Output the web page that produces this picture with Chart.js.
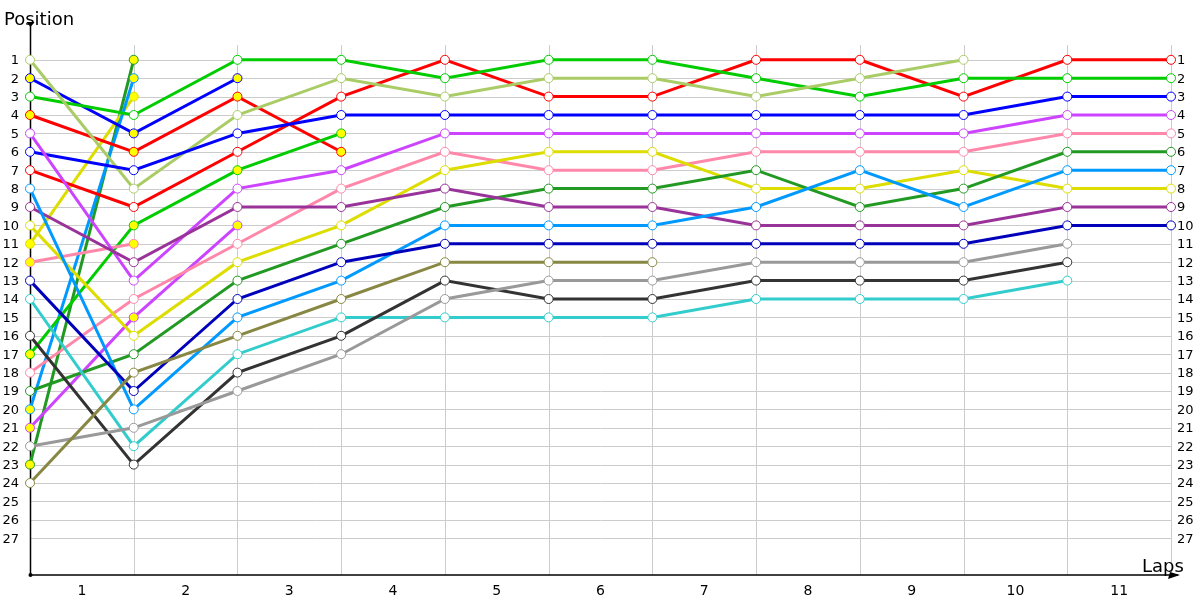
<!DOCTYPE html>
<html>
<head>
<meta charset="utf-8">
<script src="https://cdn.jsdelivr.net/npm/chart.js@4/dist/chart.umd.min.js"></script>
<style>
  html, body { margin: 0; padding: 0; background: #fff; }
  #wrap { width: 1200px; height: 600px; }
</style>
</head>
<body>
<div id="wrap"><canvas id="chart" width="1200" height="600"></canvas></div>
<script>
// lap 0 = grid, then laps 1..11
const lapLabels = ['1', '2', '3', '4', '5', '6', '7', '8', '9', '10', '11'];
const positionTicks = Array.from({length: 27}, (_, i) => i + 1);

// positions per driver, index = lap (0 = grid)
const lightGreen = [1, 8, 4, 2, 3, 2, 2, 3, 2, 1];
const blueOut = [2, 5, 2];
const green = [3, 4, 1, 1, 2, 1, 1, 2, 3, 2, 2, 2];
const redOut = [4, 6, 3, 6];
const purple = [5, 13, 8, 7, 5, 5, 5, 5, 5, 5, 4, 4];
const blue = [6, 7, 5, 4, 4, 4, 4, 4, 4, 4, 3, 3];
const red = [7, 9, 6, 3, 1, 3, 3, 1, 1, 3, 1, 1];
const skyBlue = [8, 20, 15, 13, 10, 10, 10, 9, 7, 9, 7, 7];
const plum = [9, 12, 9, 9, 8, 9, 9, 10, 10, 10, 9, 9];
const yellow = [10, 16, 12, 10, 7, 6, 6, 8, 8, 7, 8, 8];
const yellowOut = [11, 3];
const pinkOut = [12, 11];
const navy = [13, 19, 14, 12, 11, 11, 11, 11, 11, 11, 10, 10];
const teal = [14, 22, 17, 15, 15, 15, 15, 14, 14, 14, 13];
const charcoal = [16, 23, 18, 16, 13, 14, 14, 13, 13, 13, 12];
const greenOut = [17, 10, 7, 5];
const pink = [18, 14, 11, 8, 6, 7, 7, 6, 6, 6, 5, 5];
const forest = [19, 17, 13, 11, 9, 8, 8, 7, 9, 8, 6, 6];
const skyBlueOut = [20, 2];
const purpleOut = [21, 15, 10];
const gray = [22, 21, 19, 17, 14, 13, 13, 12, 12, 12, 11];
const forestOut = [23, 1];
const olive = [24, 18, 16, 14, 12, 12, 12];

const drivers = [
  {data: olive, color: '#888844', fill: '#ffffff'},
  {data: gray, color: '#999999', fill: '#ffffff'},
  {data: charcoal, color: '#333333', fill: '#ffffff'},
  {data: teal, color: '#33cccc', fill: '#ffffff'},
  {data: navy, color: '#0000bb', fill: '#ffffff'},
  {data: skyBlue, color: '#0099ff', fill: '#ffffff'},
  {data: plum, color: '#993399', fill: '#ffffff'},
  {data: forest, color: '#229922', fill: '#ffffff'},
  {data: yellow, color: '#dddd00', fill: '#ffffff'},
  {data: pink, color: '#ff88aa', fill: '#ffffff'},
  {data: purple, color: '#cc44ff', fill: '#ffffff'},
  {data: blue, color: '#0000ff', fill: '#ffffff'},
  {data: lightGreen, color: '#aacc66', fill: '#ffffff'},
  {data: green, color: '#00cc00', fill: '#ffffff'},
  {data: red, color: '#ff0000', fill: '#ffffff'},
  {data: pinkOut, color: '#ff88aa', fill: '#ffff00'},
  {data: purpleOut, color: '#cc44ff', fill: '#ffff00'},
  {data: greenOut, color: '#00cc00', fill: '#ffff00'},
  {data: redOut, color: '#ff0000', fill: '#ffff00'},
  {data: blueOut, color: '#0000ff', fill: '#ffff00'},
  {data: skyBlueOut, color: '#0099ff', fill: '#ffff00'},
  {data: yellowOut, color: '#dddd00', fill: '#ffff00'},
  {data: forestOut, color: '#229922', fill: '#ffff00'},
];

const FONT = '"DejaVu Sans", sans-serif';

// grid, tick labels and axes, all placed through the chart scales
const lapFrame = {
  id: 'lapFrame',
  beforeDatasetsDraw(chart) {
    const {ctx, scales: {x, y}} = chart;
    const left = x.getPixelForValue(0);
    const right = x.getPixelForValue(lapLabels.length);
    const bottom = y.getPixelForValue(29);
    const gridTop = y.getPixelForValue(0.2);

    ctx.save();
    ctx.strokeStyle = '#cccccc';
    ctx.lineWidth = 1;
    positionTicks.forEach((p) => {
      const py = Math.round(y.getPixelForValue(p)) + 0.5;
      ctx.beginPath();
      ctx.moveTo(left, py);
      ctx.lineTo(right, py);
      ctx.stroke();
    });
    for (let i = 1; i <= lapLabels.length; i++) {
      const px = Math.round(x.getPixelForValue(i)) + 0.5;
      ctx.beginPath();
      ctx.moveTo(px, gridTop);
      ctx.lineTo(px, bottom);
      ctx.stroke();
    }

    ctx.fillStyle = '#000000';
    ctx.font = '13px ' + FONT;
    ctx.textBaseline = 'middle';
    positionTicks.forEach((p) => {
      const py = y.getPixelForValue(p) + 1;
      ctx.textAlign = 'right';
      ctx.fillText(String(p), 19, py);
      ctx.textAlign = 'left';
      ctx.fillText(String(p), right + 6, py);
    });

    ctx.font = '14px ' + FONT;
    ctx.textAlign = 'center';
    lapLabels.forEach((lbl, i) => {
      ctx.fillText(lbl, x.getPixelForValue(i + 0.5), bottom + 16);
    });

    // axes
    ctx.strokeStyle = '#000000';
    ctx.lineWidth = 1.5;
    const ax = Math.round(left) + 0.5;
    ctx.beginPath();
    ctx.moveTo(ax, bottom);
    ctx.lineTo(ax, 24);
    ctx.stroke();
    ctx.beginPath();
    ctx.moveTo(ax, bottom);
    ctx.lineTo(1178, bottom);
    ctx.stroke();
    ctx.beginPath();
    ctx.moveTo(ax - 4, 22);
    ctx.lineTo(ax + 4, 22);
    ctx.lineTo(ax, 27);
    ctx.closePath();
    ctx.fill();
    ctx.beginPath();
    ctx.moveTo(1180, bottom);
    ctx.lineTo(1170, bottom - 3);
    ctx.lineTo(1168, bottom + 4);
    ctx.closePath();
    ctx.fill();
    ctx.beginPath();
    ctx.arc(ax, bottom, 2, 0, Math.PI * 2);
    ctx.fill();

    ctx.font = '18px ' + FONT;
    ctx.textBaseline = 'alphabetic';
    ctx.textAlign = 'left';
    ctx.fillText('Position', 4, 25);
    ctx.fillText('Laps', 1142, 572);
    ctx.restore();
  },
};

new Chart(document.getElementById('chart'), {
  type: 'line',
  data: {
    datasets: drivers.map(({data, color, fill}) => ({
      data: data.map((pos, lap) => ({x: lap, y: pos})),
      borderColor: color,
      backgroundColor: fill,
      pointBackgroundColor: fill,
      pointBorderColor: color,
      pointBorderWidth: 1,
      pointRadius: 4.5,
      borderWidth: 3,
      tension: 0,
      clip: false,
    })),
  },
  options: {
    responsive: false,
    animation: false,
    events: [],
    layout: {padding: {left: 30, right: 29, top: 23, bottom: 25}},
    plugins: {legend: {display: false}, tooltip: {enabled: false}},
    scales: {
      x: {type: 'linear', min: 0, max: lapLabels.length, display: false},
      y: {type: 'linear', min: -1, max: 29, reverse: true, display: false},
    },
  },
  plugins: [lapFrame],
});
</script>
</body>
</html>
